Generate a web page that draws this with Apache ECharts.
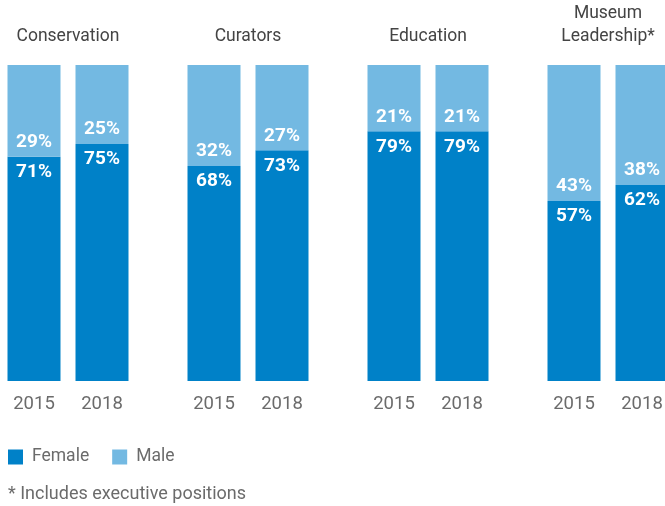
<!DOCTYPE html>
<html><head><meta charset="utf-8">
<script src="https://cdn.jsdelivr.net/npm/echarts@6/dist/echarts.min.js"></script>
<style>html,body{margin:0;padding:0;background:#fff}#c{width:665px;height:506px}</style>
</head><body><div id="c"></div>
<script>
const groups = ['Conservation', 'Curators', 'Education', 'Museum\nLeadership*'];
const years = ['2015', '2018'];
const female = [[71, 75], [68, 73], [79, 79], [57, 62]];
const male = [[29, 25], [32, 27], [21, 21], [43, 38]];
const footnote = '* Includes executive positions';

const FEM = '#0081C8', MAL = '#73B9E2';
const FONT = 'Roboto';
const grids = [], xAxes = [], yAxes = [], series = [], graphics = [];
groups.forEach((g, i) => {
  const left = 180 * i;
  grids.push({ left: left, width: 136, top: 65, height: 316, outerBoundsMode: 'none', containLabel: false });
  xAxes.push({ type: 'category', gridIndex: i, data: years,
    axisLine: { show: false }, axisTick: { show: false },
    axisLabel: { color: '#6b6b6b', fontSize: 18.5, fontFamily: FONT, margin: 14 } });
  yAxes.push({ type: 'value', gridIndex: i, min: 0, max: 100, show: false });
  series.push({ type: 'bar', name: 'Female', xAxisIndex: i, yAxisIndex: i, stack: 's' + i,
    barWidth: 53, data: female[i], itemStyle: { color: FEM },
    label: { show: true, position: 'insideTop', distance: 6, color: '#fff', fontWeight: 'bold',
      fontSize: 19, fontFamily: FONT, formatter: '{c}%' } });
  series.push({ type: 'bar', name: 'Male', xAxisIndex: i, yAxisIndex: i, stack: 's' + i,
    barWidth: 53, data: male[i], itemStyle: { color: MAL },
    label: { show: true, position: 'insideBottom', distance: 5, color: '#fff', fontWeight: 'bold',
      fontSize: 19, fontFamily: FONT, formatter: '{c}%' } });
  graphics.push({ type: 'text', style: {
    text: g, x: left + 68, y: 48, textAlign: 'center', textVerticalAlign: 'bottom',
    fill: '#444', fontSize: 17.5, fontFamily: FONT, lineHeight: 23 } });
});
graphics.push({ type: 'text', style: { text: footnote, x: 8, y: 494, textVerticalAlign: 'middle',
  fill: '#6b6b6b', fontSize: 18, fontFamily: FONT } });

const chart = echarts.init(document.getElementById('c'));
chart.setOption({
  animation: false,
  grid: grids, xAxis: xAxes, yAxis: yAxes, series: series,
  legend: { data: ['Female', 'Male'], left: 8, top: 448, padding: 0, icon: 'rect', itemWidth: 15, itemHeight: 15,
    itemGap: 23, textStyle: { color: '#6b6b6b', fontSize: 17.5, fontFamily: FONT, padding: [0, 0, 0, 4] } },
  graphic: graphics
});
</script></body></html>
